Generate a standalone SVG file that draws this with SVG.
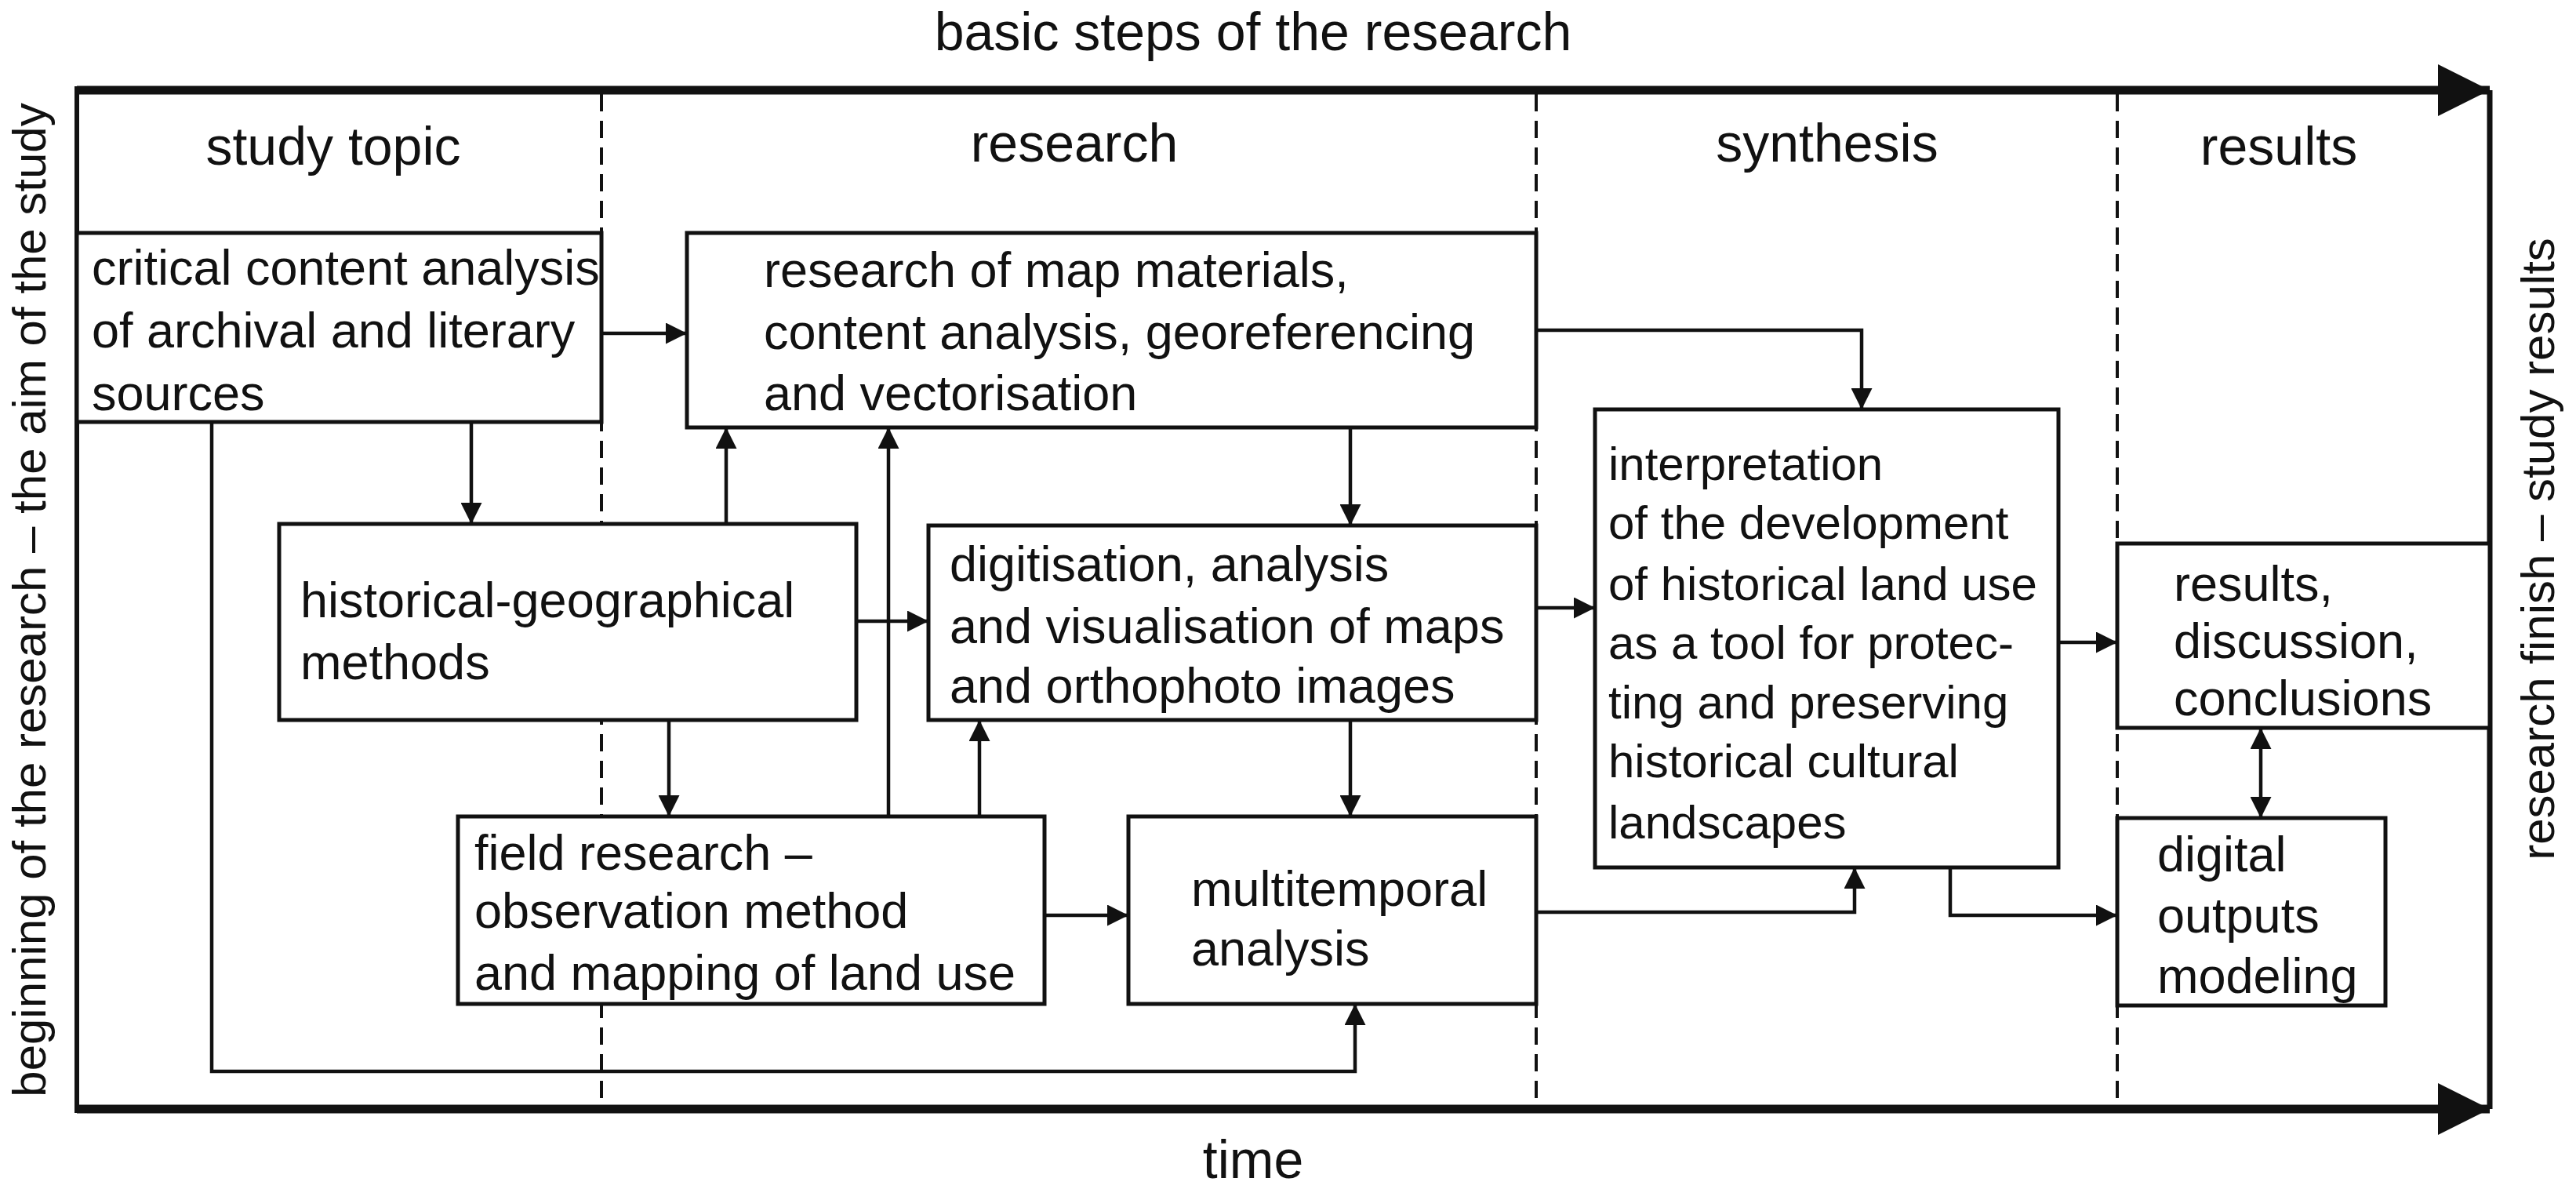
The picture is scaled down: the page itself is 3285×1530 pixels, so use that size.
<svg xmlns="http://www.w3.org/2000/svg" width="3285" height="1530" viewBox="0 0 3285 1530">
<style>
text{font-family:"Liberation Sans",Arial,sans-serif;font-size:63px;fill:#111}
.h{text-anchor:middle;font-size:68px}
.s{text-anchor:middle;font-size:60px}
.i{font-size:60px}
.b{fill:#fff;stroke:#111;stroke-width:5}
.c{fill:none;stroke:#111;stroke-width:4.5}
.d{fill:none;stroke:#111;stroke-width:4;stroke-dasharray:22 12}
</style>
<defs>
<marker id="a" viewBox="0 0 10 10" refX="10" refY="5" markerWidth="7.5" markerHeight="6" markerUnits="strokeWidth" orient="auto-start-reverse"><path d="M0,0L10,5L0,10z" fill="#111"/></marker>
<marker id="A" viewBox="0 0 10 10" refX="10" refY="5" markerWidth="7" markerHeight="6" markerUnits="strokeWidth" orient="auto"><path d="M0,0L10,5L0,10z" fill="#111"/></marker>
</defs>
<g id="frame">
<line x1="98" y1="115" x2="3175" y2="115" stroke="#111" stroke-width="11" marker-end="url(#A)"/>
<line x1="98" y1="1414" x2="3175" y2="1414" stroke="#111" stroke-width="11" marker-end="url(#A)"/>
<line x1="98" y1="110" x2="98" y2="1419" stroke="#111" stroke-width="6"/>
<line x1="3175" y1="115" x2="3175" y2="1414" stroke="#111" stroke-width="7"/>
<line class="d" x1="767" y1="120" x2="767" y2="1408"/>
<line class="d" x1="1959" y1="120" x2="1959" y2="1408"/>
<line class="d" x1="2700" y1="120" x2="2700" y2="1408"/>
<text class="h" x="1598" y="64">basic steps of the research</text>
<text class="h" x="1598" y="1502">time</text>
<text class="h" x="425" y="210">study topic</text>
<text class="h" x="1370" y="206">research</text>
<text class="h" x="2330" y="206">synthesis</text>
<text class="h" x="2906" y="210">results</text>
<text class="s" transform="translate(58,765) rotate(-90)">beginning of the research – the aim of the study</text>
<text class="s" transform="translate(3257,700) rotate(-90)">research finish – study results</text>
</g>
<g id="connectors">
<path class="c" d="M767,425H876" marker-end="url(#a)"/>
<path class="c" d="M601,538V668" marker-end="url(#a)"/>
<path class="c" d="M926,668V545" marker-end="url(#a)"/>
<path class="c" d="M1133,1041V545" marker-end="url(#a)"/>
<path class="c" d="M1249,1041V918" marker-end="url(#a)"/>
<path class="c" d="M853,918V1041" marker-end="url(#a)"/>
<path class="c" d="M1092,792H1184" marker-end="url(#a)"/>
<path class="c" d="M1722,545V670" marker-end="url(#a)"/>
<path class="c" d="M1722,918V1041" marker-end="url(#a)"/>
<path class="c" d="M1332,1167H1439" marker-end="url(#a)"/>
<path class="c" d="M270,538V1366H1728V1280" marker-end="url(#a)"/>
<path class="c" d="M1959,421H2374V522" marker-end="url(#a)"/>
<path class="c" d="M1959,775H2034" marker-end="url(#a)"/>
<path class="c" d="M1959,1163H2365V1106" marker-end="url(#a)"/>
<path class="c" d="M2625,819H2700" marker-end="url(#a)"/>
<path class="c" d="M2487,1106V1167H2700" marker-end="url(#a)"/>
<path class="c" d="M2883,928V1043" marker-start="url(#a)" marker-end="url(#a)"/>
</g>
<g id="critical"><rect class="b" x="98" y="297" width="669" height="241"/>
<text x="117" y="363">critical content analysis</text><text x="117" y="443">of archival and literary</text><text x="117" y="523">sources</text></g>
<g id="mapresearch"><rect class="b" x="876" y="297" width="1083" height="248"/>
<text x="974" y="366">research of map materials,</text><text x="974" y="445">content analysis, georeferencing</text><text x="974" y="523">and vectorisation</text></g>
<g id="histgeo"><rect class="b" x="356" y="668" width="736" height="250"/>
<text x="383" y="787">historical-geographical</text><text x="383" y="866">methods</text></g>
<g id="digitisation"><rect class="b" x="1184" y="670" width="775" height="248"/>
<text x="1211" y="741">digitisation, analysis</text><text x="1211" y="820">and visualisation of maps</text><text x="1211" y="896">and orthophoto images</text></g>
<g id="field"><rect class="b" x="584" y="1041" width="748" height="239"/>
<text x="605" y="1109">field research –</text><text x="605" y="1183">observation method</text><text x="605" y="1262">and mapping of land use</text></g>
<g id="multitemporal"><rect class="b" x="1439" y="1041" width="520" height="239"/>
<text x="1519" y="1155">multitemporal</text><text x="1519" y="1231">analysis</text></g>
<g id="interpretation"><rect class="b" x="2034" y="522" width="591" height="584"/>
<text class="i" x="2051" y="612">interpretation</text><text class="i" x="2051" y="687">of the development</text><text class="i" x="2051" y="765">of historical land use</text><text class="i" x="2051" y="840">as a tool for protec-</text><text class="i" x="2051" y="916">ting and preserving</text><text class="i" x="2051" y="991">historical cultural</text><text class="i" x="2051" y="1069">landscapes</text></g>
<g id="results"><rect class="b" x="2700" y="693" width="475" height="235"/>
<text x="2772" y="766">results,</text><text x="2772" y="839">discussion,</text><text x="2772" y="912">conclusions</text></g>
<g id="digital"><rect class="b" x="2700" y="1043" width="342" height="239"/>
<text x="2751" y="1111">digital</text><text x="2751" y="1189">outputs</text><text x="2751" y="1266">modeling</text></g>
</svg>
